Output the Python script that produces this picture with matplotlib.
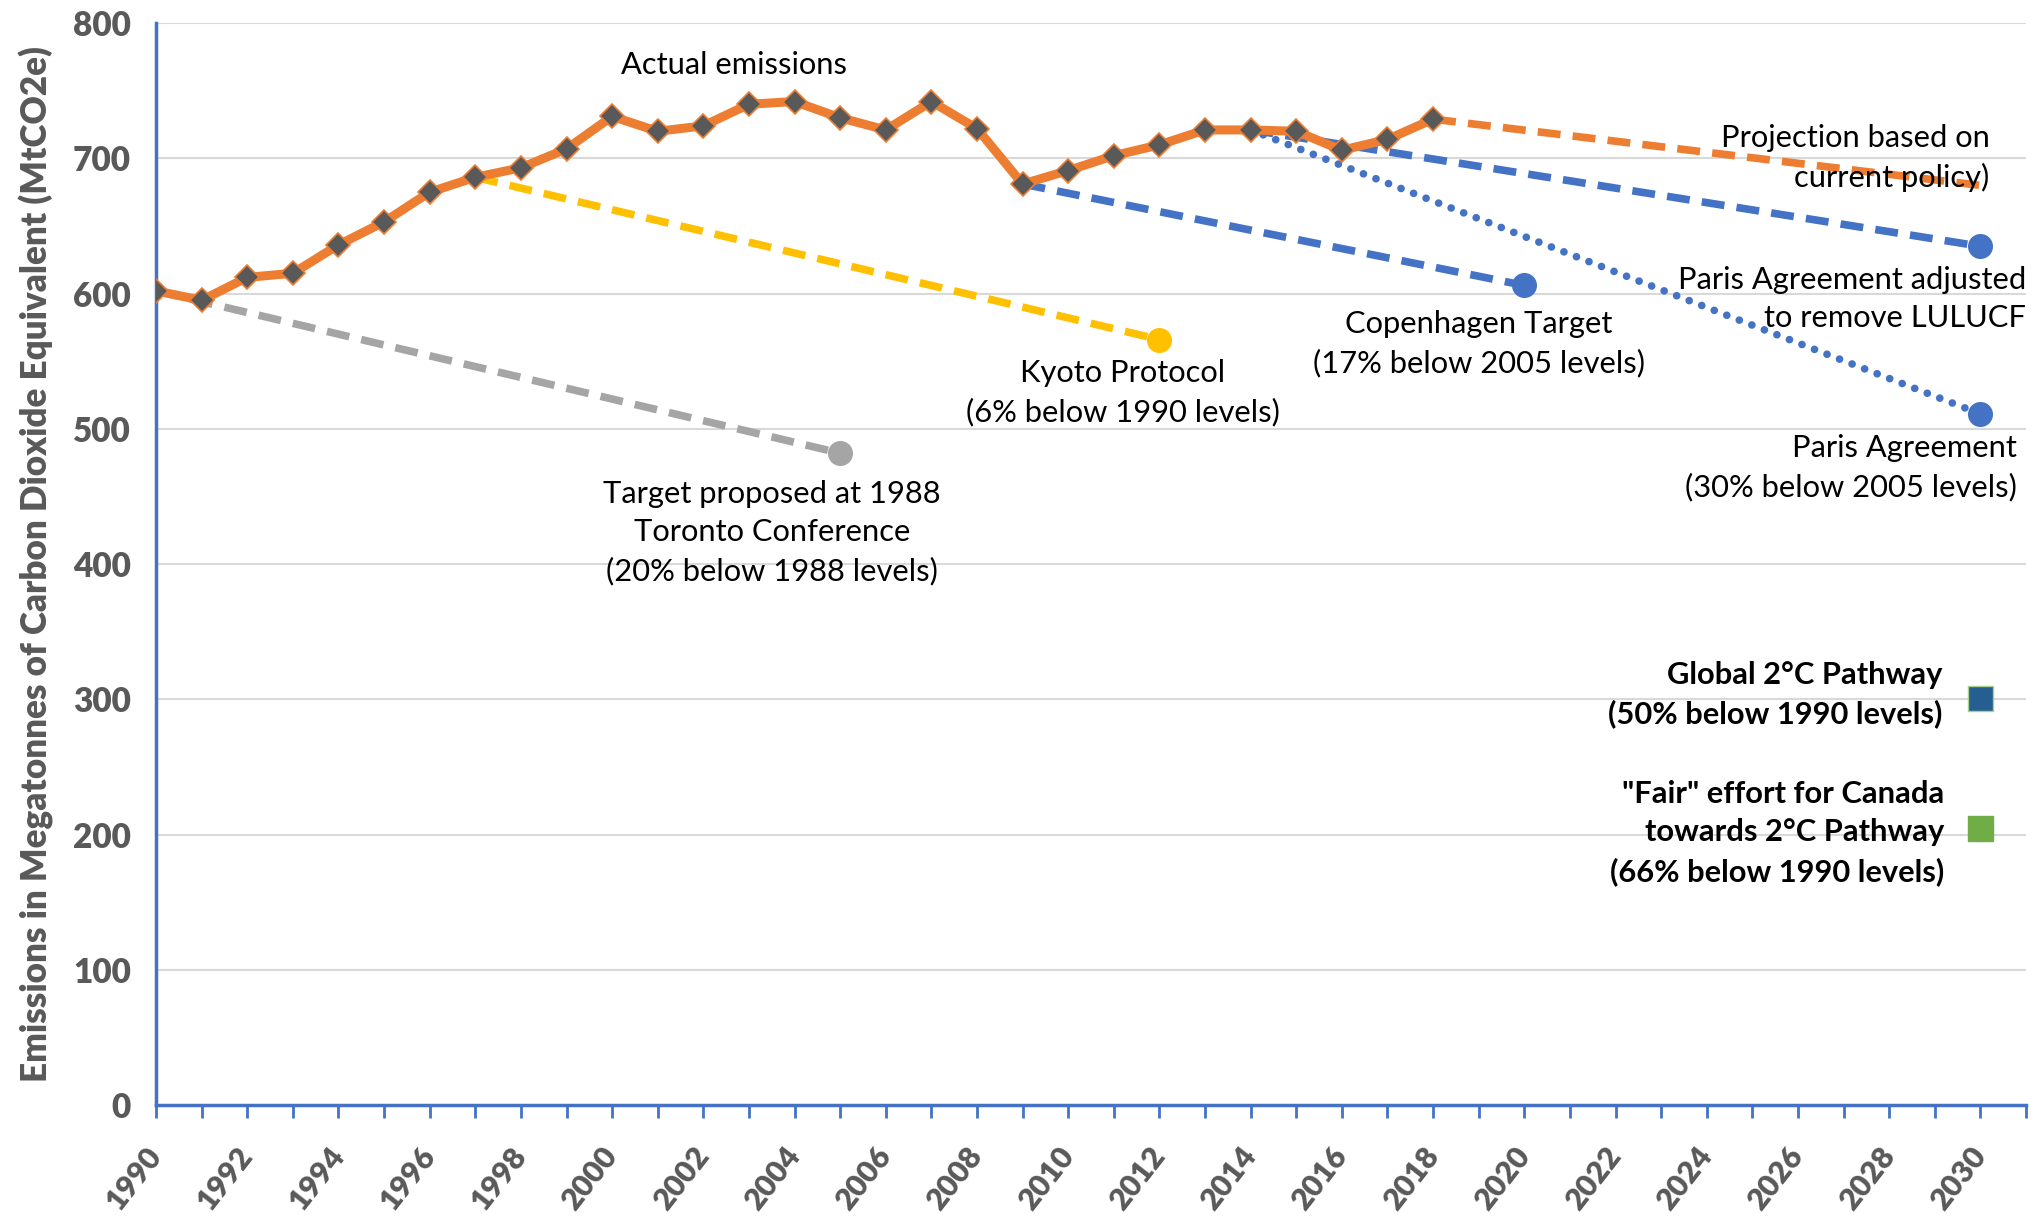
import matplotlib
matplotlib.use("Agg")
import matplotlib.pyplot as plt
from matplotlib.ticker import FixedLocator

# ---- data ----
years = list(range(1990, 2019))
emissions = [602, 595, 612, 615, 636, 653, 675, 686, 693, 707, 731, 720, 724, 740, 742,
             730, 721, 742, 722, 681, 691, 702, 710, 721, 721, 720, 706, 714, 729]
projection_x = [2018, 2030]
projection_y = [729, 680]
toronto_x = [1990, 2005]
toronto_y = [602, 482]
kyoto_x = [1997, 2012]
kyoto_y = [686, 566]
copenhagen_x = [2009, 2020]
copenhagen_y = [681, 606]
paris_adj_x = [2014, 2030]
paris_adj_y = [721, 635]
paris_x = [2014, 2030]
paris_y = [721, 511]
global2c_x, global2c_y = 2030, 301
fair_x, fair_y = 2030, 205
yticks = [0, 100, 200, 300, 400, 500, 600, 700, 800]
xtick_labels = [str(y) for y in range(1990, 2031, 2)]

ORANGE = "#ED7D31"
GRAY = "#A5A5A5"
YELLOW = "#FFC000"
BLUE = "#4472C4"
DKBLUE = "#255E91"
GREEN = "#70AD47"
AXIS = "#4472C4"
TXT = "#595959"

FONT = "Lato"
plt.rcParams["font.family"] = [FONT, "DejaVu Sans"]

fig = plt.figure(figsize=(20.37, 12.16), dpi=100)
ax = fig.add_axes([0.0766, 0.0913, 0.918, 0.8897])

dash = (0, (3, 1.6))
lw = 5.5
ax.plot(toronto_x, toronto_y, color=GRAY, lw=lw, ls=dash, zorder=3)
ax.plot(toronto_x[-1], toronto_y[-1], "o", color=GRAY, ms=17, zorder=3)
ax.plot(kyoto_x, kyoto_y, color=YELLOW, lw=lw, ls=dash, zorder=3)
ax.plot(kyoto_x[-1], kyoto_y[-1], "o", color=YELLOW, ms=17, zorder=3)
ax.plot(copenhagen_x, copenhagen_y, color=BLUE, lw=lw, ls=dash, zorder=3)
ax.plot(copenhagen_x[-1], copenhagen_y[-1], "o", color=BLUE, ms=17, zorder=3)
ax.plot(paris_adj_x, paris_adj_y, color=BLUE, lw=lw, ls=dash, zorder=3)
ax.plot(paris_adj_x[-1], paris_adj_y[-1], "o", color=BLUE, ms=17, zorder=3)
ax.plot(paris_x, paris_y, color=BLUE, lw=5.5, ls=(0, (0.01, 1.75)), dash_capstyle="round", zorder=3)
ax.plot(paris_x[-1], paris_y[-1], "o", color=BLUE, ms=17, zorder=3)
ax.plot(projection_x, projection_y, color=ORANGE, lw=lw, ls=dash, zorder=3)

ax.plot(years, emissions, color=ORANGE, lw=6.5, marker="D", ms=12,
        mfc="#595959", mec=ORANGE, mew=1.2, zorder=4)

ax.plot(global2c_x, global2c_y, "s", color=DKBLUE, ms=18, mec="#A9D18E", mew=1, zorder=4)
ax.plot(fair_x, fair_y, "s", color=GREEN, ms=18, mec=GREEN, mew=1, zorder=4)

# axes styling
ax.set_xlim(1990, 2031)
ax.set_ylim(0, 800)
ax.set_yticks(yticks)
ax.grid(axis="y", color="#D9D9D9", lw=1.5, zorder=0)
ax.set_axisbelow(True)
for s in ["top", "right"]:
    ax.spines[s].set_visible(False)
for s in ["left", "bottom"]:
    ax.spines[s].set_color(AXIS)
    ax.spines[s].set_linewidth(2.5)
ax.xaxis.set_major_locator(FixedLocator(list(range(1990, 2031, 2))))
ax.set_xticklabels(xtick_labels)
ax.xaxis.set_minor_locator(FixedLocator(list(range(1990, 2032))))
ax.tick_params(axis="x", which="both", direction="out", length=9, width=2, color=AXIS, pad=24)
ax.tick_params(axis="y", length=0, pad=18)
for lab in ax.get_xticklabels():
    lab.set_rotation(52)
    lab.set_ha("right")
    lab.set_va("center")
    lab.set_rotation_mode("anchor")
    lab.set_fontsize(22)
    lab.set_fontweight("heavy")
    lab.set_color(TXT)
for lab in ax.get_yticklabels():
    lab.set_fontsize(24)
    lab.set_fontweight("heavy")
    lab.set_color(TXT)

ax.set_ylabel("Emissions in Megatonnes of Carbon Dioxide Equivalent (MtCO2e)",
              fontsize=25.2, fontweight="heavy", color=TXT, labelpad=14)

fs = 22.2
kw = dict(fontsize=fs, color="black", linespacing=1.45)
ax.text(2002.68, 769, "Actual emissions", ha="center", va="center", **kw)
ax.text(2030.2, 700, "Projection based on\ncurrent policy)", ha="right", va="center", **kw)
ax.text(2031.0, 596, "Paris Agreement adjusted\nto remove LULUCF", ha="right", va="center", **kw)
ax.text(2019.0, 563, "Copenhagen Target\n(17% below 2005 levels)", ha="center", va="center", **kw)
ax.text(2011.2, 527, "Kyoto Protocol\n(6% below 1990 levels)", ha="center", va="center", **kw)
ax.text(2030.8, 471, "Paris Agreement\n(30% below 2005 levels)", ha="right", va="center", **kw)
ax.text(2003.5, 423, "Target proposed at 1988\nToronto Conference\n(20% below 1988 levels)",
        ha="center", va="center", **kw)
ax.text(2029.17, 303.5, "Global 2°C Pathway\n(50% below 1990 levels)", ha="right", va="center",
        fontweight="bold", **kw)
ax.text(2029.2, 201, "\"Fair\" effort for Canada\ntowards 2°C Pathway\n(66% below 1990 levels)",
        ha="right", va="center", fontweight="bold", **kw)

fig.savefig("out.png", dpi=100)
